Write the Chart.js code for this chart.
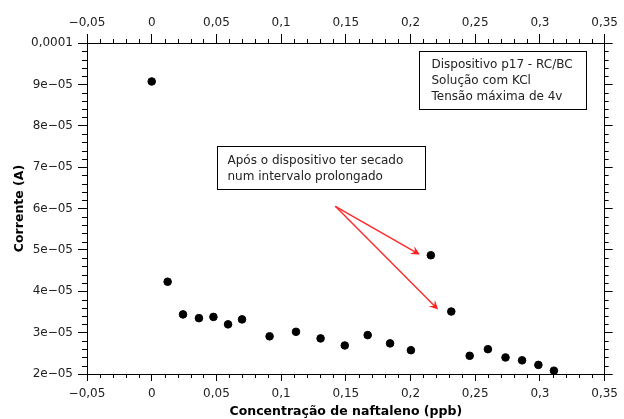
<!DOCTYPE html>
<html><head><meta charset="utf-8">
<script src="https://cdn.jsdelivr.net/npm/chart.js@4/dist/chart.umd.min.js"></script>
<style>html,body{margin:0;padding:0;background:#fff}#c{display:block}</style>
</head><body>
<canvas id="c" width="624" height="419"></canvas>
<script>
const concentration = [0, 0.0123, 0.0242, 0.0365, 0.0477, 0.059, 0.0698, 0.0911, 0.1115, 0.1305, 0.1492, 0.1669, 0.1842, 0.2003, 0.2157, 0.2315, 0.2457, 0.2598, 0.2734, 0.2862, 0.2988, 0.3108];
const current = [9.07e-5, 4.23e-5, 3.44e-5, 3.35e-5, 3.38e-5, 3.20e-5, 3.32e-5, 2.91e-5, 3.02e-5, 2.86e-5, 2.69e-5, 2.94e-5, 2.74e-5, 2.575e-5, 4.87e-5, 3.51e-5, 2.44e-5, 2.60e-5, 2.40e-5, 2.33e-5, 2.22e-5, 2.08e-5];
const xTickValues = [-0.05, 0, 0.05, 0.1, 0.15, 0.2, 0.25, 0.3, 0.35];
const xTickLabels = ['\u22120,05', '0', '0,05', '0,1', '0,15', '0,2', '0,25', '0,3', '0,35'];
const yTickValues = [2e-5, 3e-5, 4e-5, 5e-5, 6e-5, 7e-5, 8e-5, 9e-5, 1e-4];
const yTickLabels = ['2e\u221205', '3e\u221205', '4e\u221205', '5e\u221205', '6e\u221205', '7e\u221205', '8e\u221205', '9e\u221205', '0,0001'];
const xTitle = 'Concentração de naftaleno (ppb)';
const yTitle = 'Corrente (A)';
const infoLines = ['Dispositivo p17 - RC/BC', 'Solução com KCl', 'Tensão máxima de 4v'];
const noteLines = ['Após o dispositivo ter secado', 'num intervalo prolongado'];
// annotation anchors in data coordinates
const infoBox = {x0: 0.2065, y0: 9.797e-5, x1: 0.3359, y1: 8.406e-5};
const noteBox = {x0: 0.0508, y0: 7.502e-5, x1: 0.2108, y1: 6.48e-5};
const arrowStart = {x: 0.1419, y: 6.053e-5};
const arrowEnds = [{x: 0.2072, y: 4.886e-5}, {x: 0.2213, y: 3.558e-5}];

const X_MIN = -0.05, X_MAX = 0.35, Y_MIN = 2e-5, Y_MAX = 1e-4;
const FONT = "'DejaVu Sans', sans-serif";
const TXT = '#222';

function majorTicks(values) {
  return s => { s.ticks = values.map(v => ({value: v})); };
}
function xLabel(v) {
  const i = xTickValues.findIndex(t => Math.abs(t - v) < 1e-9);
  return i >= 0 ? xTickLabels[i] : '';
}
function yLabel(v) {
  const i = yTickValues.findIndex(t => Math.abs(t - v) < 1e-12);
  return i >= 0 ? yTickLabels[i] : '';
}
const gridCommon = (len) => ({drawOnChartArea: false, color: '#000', tickColor: '#000', tickLength: len, lineWidth: 1});
const borderCommon = {display: true, color: '#000', width: 1};

const minorTicks = {
  id: 'minorTicks',
  afterDraw(chart) {
    const ctx = chart.ctx;
    ctx.save();
    ctx.strokeStyle = '#000';
    ctx.lineWidth = 1;
    ctx.beginPath();
    const L = 4;
    for (let i = 0; i <= 40; i++) {
      if (i % 5 === 0) continue;
      const xv = X_MIN + i * 0.01;
      const sx = chart.scales.x, sx2 = chart.scales.x2;
      const px = Math.round(sx.getPixelForValue(xv)) + 0.5;
      ctx.moveTo(px, sx.top); ctx.lineTo(px, sx.top + L);
      ctx.moveTo(px, sx2.bottom); ctx.lineTo(px, sx2.bottom - L);
      const yv = Y_MIN + i * 2e-6;
      const sy = chart.scales.y, sy2 = chart.scales.y2;
      const py = Math.round(sy.getPixelForValue(yv)) + 0.5;
      ctx.moveTo(sy.right, py); ctx.lineTo(sy.right - L - 1, py);
      ctx.moveTo(sy2.left, py); ctx.lineTo(sy2.left + L, py);
    }
    ctx.stroke();
    ctx.restore();
  }
};

const annotations = {
  id: 'annotations',
  afterDraw(chart) {
    const ctx = chart.ctx, sx = chart.scales.x, sy = chart.scales.y;
    const X = v => sx.getPixelForValue(v), Y = v => sy.getPixelForValue(v);
    ctx.save();
    ctx.font = '12px ' + FONT;
    ctx.textBaseline = 'middle';
    ctx.textAlign = 'left';
    function box(b, lines, padX, firstY, lh) {
      const x0 = Math.round(X(b.x0)) + 0.5, y0 = Math.round(Y(b.y0)) + 0.5;
      const x1 = Math.round(X(b.x1)) + 0.5, y1 = Math.round(Y(b.y1)) + 0.5;
      ctx.fillStyle = '#fff';
      ctx.fillRect(x0, y0, x1 - x0, y1 - y0);
      ctx.strokeStyle = '#000';
      ctx.lineWidth = 1;
      ctx.strokeRect(x0, y0, x1 - x0, y1 - y0);
      ctx.fillStyle = TXT;
      lines.forEach((t, i) => ctx.fillText(t, x0 + padX, y0 + firstY + i * lh));
    }
    box(infoBox, infoLines, 12, 13.5, 15.8);
    box(noteBox, noteLines, 10, 14.5, 16.3);
    // arrows
    const sxp = X(arrowStart.x), syp = Y(arrowStart.y);
    arrowEnds.forEach(e => {
      const ex = X(e.x), ey = Y(e.y);
      const ang = Math.atan2(ey - syp, ex - sxp);
      const hl = 9, hw = 4.5;
      const bx = ex - hl * Math.cos(ang), by = ey - hl * Math.sin(ang);
      ctx.strokeStyle = 'rgb(255,40,40)';
      ctx.lineWidth = 1.4;
      ctx.beginPath();
      ctx.moveTo(sxp, syp); ctx.lineTo(ex - 5 * Math.cos(ang), ey - 5 * Math.sin(ang));
      ctx.stroke();
      ctx.fillStyle = 'rgb(255,30,30)';
      ctx.beginPath();
      ctx.moveTo(ex, ey);
      ctx.lineTo(bx + hw * Math.sin(ang), by - hw * Math.cos(ang));
      ctx.lineTo(ex - 5.5 * Math.cos(ang), ey - 5.5 * Math.sin(ang));
      ctx.lineTo(bx - hw * Math.sin(ang), by + hw * Math.cos(ang));
      ctx.closePath();
      ctx.fill();
    });
    ctx.restore();
  }
};

Chart.defaults.font.family = FONT;
Chart.defaults.font.size = 12;
Chart.defaults.color = TXT;

new Chart(document.getElementById('c'), {
  type: 'scatter',
  data: {
    datasets: [{
      data: concentration.map((x, i) => ({x, y: current[i]})),
      backgroundColor: '#000',
      borderColor: '#000',
      pointRadius: 3.8,
      pointHoverRadius: 3.8,
      xAxisID: 'x',
      yAxisID: 'y'
    }]
  },
  options: {
    responsive: false,
    animation: false,
    devicePixelRatio: 1,
    layout: {padding: 0},
    plugins: {legend: {display: false}, tooltip: {enabled: false}},
    scales: {
      x: {
        type: 'linear', position: 'bottom', min: X_MIN, max: X_MAX,
        afterBuildTicks: majorTicks(xTickValues),
        afterFit: s => { s.height = 45; },
        grid: gridCommon(7), border: borderCommon,
        ticks: {callback: v => xLabel(v), padding: 6, maxRotation: 0, autoSkip: false, color: TXT},
        title: {display: true, text: xTitle, font: {weight: 'bold', size: 12.5}, padding: {top: 0, bottom: 0}, color: '#000'}
      },
      x2: {
        type: 'linear', position: 'top', min: X_MIN, max: X_MAX,
        afterBuildTicks: majorTicks(xTickValues),
        afterFit: s => { s.height = 43; },
        grid: gridCommon(9), border: borderCommon,
        ticks: {callback: v => xLabel(v), padding: 4, maxRotation: 0, autoSkip: false, color: TXT}
      },
      y: {
        type: 'linear', position: 'left', min: Y_MIN, max: Y_MAX,
        afterBuildTicks: majorTicks(yTickValues),
        afterFit: s => { s.width = 87; },
        grid: gridCommon(9), border: borderCommon,
        ticks: {callback: v => yLabel(v), padding: 5, autoSkip: false, color: TXT},
        title: {display: true, text: yTitle, font: {weight: 'bold', size: 12.5}, padding: {top: 12.5, bottom: 0}, color: '#000'}
      },
      y2: {
        type: 'linear', position: 'right', min: Y_MIN, max: Y_MAX,
        afterBuildTicks: majorTicks(yTickValues),
        afterFit: s => { s.width = 17; },
        grid: gridCommon(8), border: borderCommon,
        ticks: {callback: () => '', padding: 0}
      }
    }
  },
  plugins: [minorTicks, annotations]
});
</script>
</body></html>
